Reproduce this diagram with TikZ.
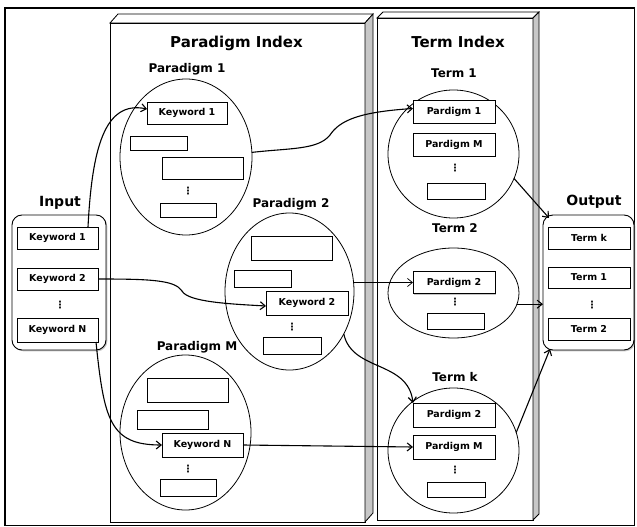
\documentclass[tikz,border=0pt]{standalone}
\usepackage{fontspec}
\setmainfont{DejaVu Sans}
\usetikzlibrary{shapes.geometric,arrows.meta,shadows}
\newcommand\vdotsx{⋮}
\begin{document}
\begin{tikzpicture}[x=1pt,y=-1pt,
  bx/.style={draw, line width=0.9pt, fill=white, inner sep=0pt, outer sep=0pt,
    font=\bfseries\fontsize{9.5}{10}\selectfont,
    drop shadow={shadow xshift=1.3pt, shadow yshift=-1.3pt, opacity=0.45}},
  ell/.style={draw, ellipse, line width=0.8pt, inner sep=0pt, outer sep=0pt},
  ttl/.style={font=\bfseries\fontsize{15}{16}\selectfont, inner sep=0pt},
  sub/.style={font=\bfseries\fontsize{12}{13}\selectfont, inner sep=0pt},
  io/.style={font=\bfseries\fontsize{14}{15}\selectfont, inner sep=0pt},
  dts/.style={inner sep=0pt, font=\bfseries\fontsize{10}{10}\selectfont},
  rbox/.style={draw, rounded corners=10pt, line width=0.9pt, fill=white, inner sep=0pt, outer sep=0pt,
    drop shadow={shadow xshift=1.3pt, shadow yshift=-1.3pt, opacity=0.45}},
  conn/.style={line width=1.1pt, -{Straight Barb[length=5pt,width=8pt]}},
  thinconn/.style={line width=0.7pt, -{Straight Barb[length=5pt,width=8pt]}},
  side/.style={draw, line width=0.8pt, fill=black!22},
  top/.style={draw, line width=0.8pt, fill=white}
]
\useasboundingbox (0,0) rectangle (637,527);
% outer frame
\draw[line width=1.2pt] (5,8) rectangle (634.5,525.5);

% Paradigm Index 3D box
\draw[line width=0.9pt, fill=white] (110,23) rectangle (365,522);
\draw[top] (110,23) -- (118,14) -- (373,14) -- (365,23) -- cycle;
\draw[side] (365,23) -- (373,14) -- (373,513) -- (365,522) -- cycle;
% Term Index 3D box
\draw[line width=0.9pt, fill=white] (377,18) rectangle (533,520);
\draw[top] (377,18) -- (383,12) -- (539,12) -- (533,18) -- cycle;
\draw[side] (533,18) -- (539,12) -- (539,514) -- (533,520) -- cycle;

\node[ttl] (pidx) at (236.5,43) {Paradigm Index};
\node[ttl] (tidx) at (458,42) {Term Index};

% Input / Output
\node[io] (inlbl) at (60,203) {Input};
\node[io] (outlbl) at (594,202) {Output};
\node[rbox, minimum width=94pt, minimum height=135pt] (inbox) at (59,282.5) {};
\node[rbox, minimum width=91pt, minimum height=135pt] (outbox) at (588.5,282.5) {};

\node[bx, minimum width=81pt, minimum height=22pt] (ik1) at (57.5,238) {Keyword 1};
\node[bx, minimum width=81pt, minimum height=22pt] (ik2) at (57.5,279) {Keyword 2};
\node[dts] (ind) at (60,305) {\vdotsx};
\node[bx, minimum width=81pt, minimum height=24pt] (ikN) at (57.5,330) {Keyword N};

\node[bx, minimum width=82pt, minimum height=22pt] (ok) at (589,238) {Term k};
\node[bx, minimum width=82pt, minimum height=21pt] (o1) at (589,277.5) {Term 1};
\node[dts] (outd) at (592,305) {\vdotsx};
\node[bx, minimum width=82pt, minimum height=22pt] (o2) at (589,329) {Term 2};

% Paradigm 1
\node[sub] (p1lbl) at (187,69) {Paradigm 1};
\node[ell, minimum width=132pt, minimum height=156pt] (e1) at (186,157) {};
\node[bx, minimum width=80pt, minimum height=22pt] (p1k1) at (187,113) {Keyword 1};
\node[bx, minimum width=57pt, minimum height=14pt] (p1b1) at (158.5,143) {};
\node[bx, minimum width=81pt, minimum height=22pt] (p1b2) at (202.5,168) {};
\node[dts] (p1d) at (188,191) {\vdotsx};
\node[bx, minimum width=56pt, minimum height=14pt] (p1b3) at (188,210) {};

% Paradigm 2
\node[sub] (p2lbl) at (291,204) {Paradigm 2};
\node[ell, minimum width=129pt, minimum height=157pt] (e2) at (289.5,291.5) {};
\node[bx, minimum width=81pt, minimum height=24pt] (p2b1) at (291.5,248) {};
\node[bx, minimum width=57pt, minimum height=17pt] (p2b2) at (262.5,278.5) {};
\node[bx, minimum width=82pt, minimum height=24pt] (p2k2) at (307,303) {Keyword 2};
\node[dts] (p2d) at (292,327) {\vdotsx};
\node[bx, minimum width=58pt, minimum height=17pt] (p2b3) at (292,345.5) {};

% Paradigm M
\node[sub] (pMlbl) at (197,347) {Paradigm M};
\node[ell, minimum width=131pt, minimum height=155pt] (eM) at (185.5,432.5) {};
\node[bx, minimum width=81pt, minimum height=24pt] (pMb1) at (187.5,390) {};
\node[bx, minimum width=71pt, minimum height=19pt] (pMb2) at (172.5,419.5) {};
\node[bx, minimum width=81pt, minimum height=24pt] (pMkN) at (202.5,445) {Keyword N};
\node[dts] (pMd) at (188,469) {\vdotsx};
\node[bx, minimum width=56pt, minimum height=17pt] (pMb3) at (188,487.5) {};

% Term 1
\node[sub] (t1lbl) at (454,73) {Term 1};
\node[ell, minimum width=131pt, minimum height=128pt] (t1) at (453.5,154) {};
\node[bx, minimum width=82pt, minimum height=23pt] (t1p1) at (454,111.5) {Pardigm 1};
\node[bx, minimum width=82pt, minimum height=23pt] (t1pM) at (454,144.5) {Pardigm M};
\node[dts] (t1d) at (455,168) {\vdotsx};
\node[bx, minimum width=58pt, minimum height=16pt] (t1b) at (456,191) {};

% Term 2
\node[sub] (t2lbl) at (455,228) {Term 2};
\node[ell, minimum width=131pt, minimum height=90pt] (t2) at (453.5,293) {};
\node[bx, minimum width=82pt, minimum height=22pt] (t2p2) at (454,282.5) {Pardigm 2};
\node[dts] (t2d) at (455,302) {\vdotsx};
\node[bx, minimum width=57pt, minimum height=16pt] (t2b) at (455.5,321) {};

% Term k
\node[sub] (tklbl) at (455,377) {Term k};
\node[ell, minimum width=131pt, minimum height=125pt] (tk) at (453.5,450.5) {};
\node[bx, minimum width=82pt, minimum height=24pt] (tkp2) at (454,415) {Pardigm 2};
\node[bx, minimum width=82pt, minimum height=24pt] (tkpM) at (454,447) {Pardigm M};
\node[dts] (tkd) at (455,470) {\vdotsx};
\node[bx, minimum width=58pt, minimum height=15pt] (tkb) at (456,489.5) {};

% connectors
\draw[conn] ([xshift=-10pt]ik1.north east) .. controls (92,150) and (104,100) .. ([yshift=4pt]p1k1.west);
\draw[conn] (e1.4) .. controls (290,148) and (318,150) .. (330,135)
  .. controls (340,120) and (360,112) .. ([yshift=3pt]t1p1.west);
\draw[conn] (ik2.east) .. controls (150,279) and (175,280) .. (182,291)
  .. controls (188,302) and (230,304) .. ([yshift=-3pt]p2k2.west);
\draw[conn] ([xshift=-2pt]ikN.south east) .. controls (104,420) and (110,445) .. (pMkN.west);
\draw[thinconn] (e2.east |- t2p2.west) -- (t2p2.west);
\draw[conn] (e2.-38) .. controls (352,372) and (408,360) .. (tkp2.north west);
\draw[conn] (pMkN.east) -- (tkpM.west);
\draw[conn] (t1.-22) -- ([xshift=6pt,yshift=-3pt]outbox.north west);
\draw[conn] (t2.-10) -- (t2.-10 -| outbox.west);
\draw[conn] (tk.16) -- ([xshift=7pt,yshift=1pt]outbox.south west);
\end{tikzpicture}
\end{document}
